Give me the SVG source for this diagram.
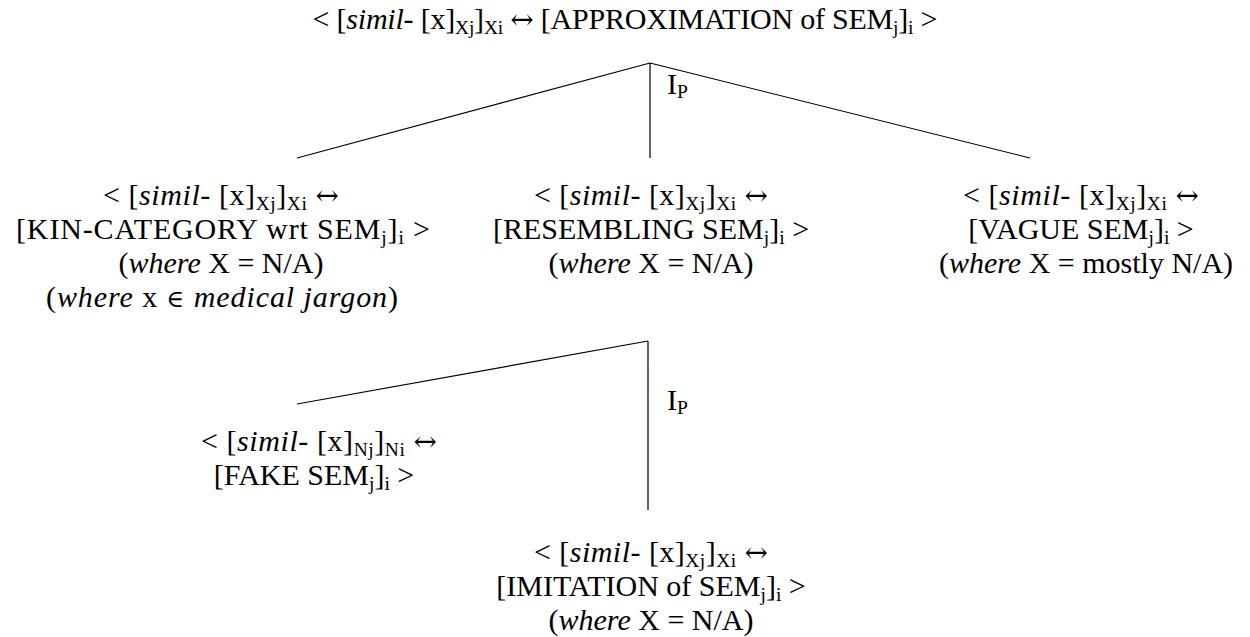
<svg xmlns="http://www.w3.org/2000/svg" width="1250" height="637" viewBox="0 0 1250 637">
<style>
text{font-family:"Liberation Serif","Times New Roman",serif;font-size:30px;fill:#000;text-anchor:middle}
.i{font-style:italic}
.s{font-size:19.5px}
.a{font-family:"DejaVu Serif",serif;font-size:28px}
.e{font-family:"DejaVu Serif",serif;font-size:24px}
.lbl{text-anchor:start}
.ln{stroke:#000;stroke-width:1.2;fill:none}
</style>
<rect width="1250" height="637" fill="#fff"/>
<g id="connectors">
<path class="ln" d="M650,63 L297,158 M650,63 L650,158 M650,63 L1030,158"/>
<path class="ln" d="M648,341 L297,404 M648,341 L648,510"/>
<text class="lbl" x="667" y="94">I<tspan class="s" dy="4">P</tspan></text>
<text class="lbl" x="667" y="410">I<tspan class="s" dy="4">P</tspan></text>
</g>
<g id="root">
<text x="625" y="29" textLength="625" lengthAdjust="spacing">&lt; [<tspan class="i">simil</tspan>- [x]<tspan class="s" dy="5">Xj</tspan><tspan dy="-5">]</tspan><tspan class="s" dy="5">Xi</tspan><tspan dy="-5"> </tspan><tspan class="a">↔</tspan> [APPROXIMATION of SEM<tspan class="s" dy="5">j</tspan><tspan dy="-5">]</tspan><tspan class="s" dy="5">i</tspan><tspan dy="-5"> &gt;</tspan></text>
</g>
<g id="kin">
<text x="221" y="205" textLength="236" lengthAdjust="spacing">&lt; [<tspan class="i">simil</tspan>- [x]<tspan class="s" dy="5">Xj</tspan><tspan dy="-5">]</tspan><tspan class="s" dy="5">Xi</tspan><tspan dy="-5"> </tspan><tspan class="a">↔</tspan></text>
<text x="223" y="239" textLength="414" lengthAdjust="spacing">[KIN-CATEGORY wrt SEM<tspan class="s" dy="5">j</tspan><tspan dy="-5">]</tspan><tspan class="s" dy="5">i</tspan><tspan dy="-5"> &gt;</tspan></text>
<text x="221" y="273">(<tspan class="i">where</tspan> X = N/A)</text>
<text x="222" y="307" textLength="352" lengthAdjust="spacing">(<tspan class="i">where</tspan> x <tspan class="e">∈</tspan> <tspan class="i">medical jargon</tspan>)</text>
</g>
<g id="resembling">
<text x="651" y="205" textLength="234" lengthAdjust="spacing">&lt; [<tspan class="i">simil</tspan>- [x]<tspan class="s" dy="5">Xj</tspan><tspan dy="-5">]</tspan><tspan class="s" dy="5">Xi</tspan><tspan dy="-5"> </tspan><tspan class="a">↔</tspan></text>
<text x="651" y="239">[RESEMBLING SEM<tspan class="s" dy="5">j</tspan><tspan dy="-5">]</tspan><tspan class="s" dy="5">i</tspan><tspan dy="-5"> &gt;</tspan></text>
<text x="651" y="273">(<tspan class="i">where</tspan> X = N/A)</text>
</g>
<g id="vague">
<text x="1081" y="205" textLength="236" lengthAdjust="spacing">&lt; [<tspan class="i">simil</tspan>- [x]<tspan class="s" dy="5">Xj</tspan><tspan dy="-5">]</tspan><tspan class="s" dy="5">Xi</tspan><tspan dy="-5"> </tspan><tspan class="a">↔</tspan></text>
<text x="1081" y="239">[VAGUE SEM<tspan class="s" dy="5">j</tspan><tspan dy="-5">]</tspan><tspan class="s" dy="5">i</tspan><tspan dy="-5"> &gt;</tspan></text>
<text x="1086" y="273">(<tspan class="i">where</tspan> X = mostly N/A)</text>
</g>
<g id="fake">
<text x="319" y="451" textLength="236" lengthAdjust="spacing">&lt; [<tspan class="i">simil</tspan>- [x]<tspan class="s" dy="5">Nj</tspan><tspan dy="-5">]</tspan><tspan class="s" dy="5">Ni</tspan><tspan dy="-5"> </tspan><tspan class="a">↔</tspan></text>
<text x="314" y="485">[FAKE SEM<tspan class="s" dy="5">j</tspan><tspan dy="-5">]</tspan><tspan class="s" dy="5">i</tspan><tspan dy="-5"> &gt;</tspan></text>
</g>
<g id="imitation">
<text x="651" y="562" textLength="234" lengthAdjust="spacing">&lt; [<tspan class="i">simil</tspan>- [x]<tspan class="s" dy="5">Xj</tspan><tspan dy="-5">]</tspan><tspan class="s" dy="5">Xi</tspan><tspan dy="-5"> </tspan><tspan class="a">↔</tspan></text>
<text x="651" y="596">[IMITATION of SEM<tspan class="s" dy="5">j</tspan><tspan dy="-5">]</tspan><tspan class="s" dy="5">i</tspan><tspan dy="-5"> &gt;</tspan></text>
<text x="651" y="630">(<tspan class="i">where</tspan> X = N/A)</text>
</g>
</svg>
